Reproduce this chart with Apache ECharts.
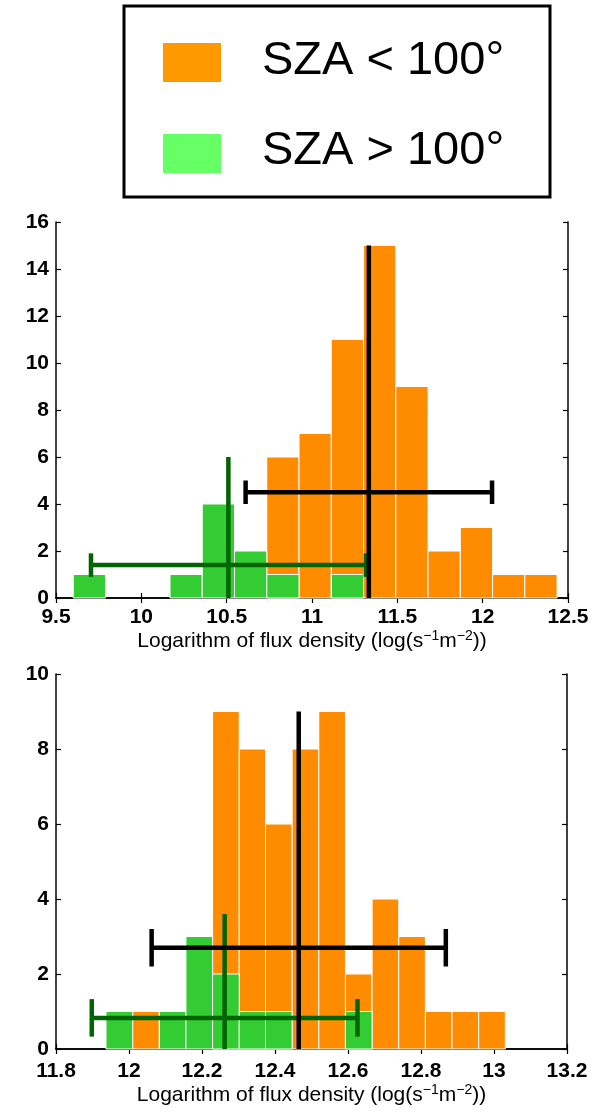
<!DOCTYPE html>
<html>
<head>
<meta charset="utf-8">
<script src="https://cdn.jsdelivr.net/npm/echarts@6/dist/echarts.min.js"></script>
<style>
  html, body { margin: 0; padding: 0; background: #fff; }
  #chart { width: 611px; height: 1117px; }
</style>
</head>
<body>
<div id="chart"></div>
<script>
// bin edges (15 bins per panel)
var topEdges = [9.601, 9.790, 9.979, 10.168, 10.357, 10.546, 10.735, 10.924, 11.113, 11.302, 11.491, 11.680, 11.869, 12.058, 12.247, 12.436];
var topOrange = [0, 0, 0, 0, 0, 0, 6, 7, 11, 15, 9, 2, 3, 1, 1];
var topGreen = [1, 0, 0, 1, 4, 2, 1, 0, 1, 0, 0, 0, 0, 0, 0];

var botEdges = [11.937, 12.010, 12.083, 12.156, 12.229, 12.302, 12.374, 12.447, 12.520, 12.593, 12.666, 12.739, 12.812, 12.885, 12.958, 13.031];
var botOrange = [0, 1, 0, 0, 9, 8, 6, 8, 9, 2, 4, 3, 1, 1, 1];
var botGreen = [1, 0, 1, 3, 2, 1, 1, 0, 0, 1, 0, 0, 0, 0, 0];

// mean, half spread, height of spread bar, top of mean line
var topOrangeStat = [11.333, 0.722, 4.5, 15];
var topGreenStat = [10.51, 0.805, 1.4, 6];
var botOrangeStat = [12.465, 0.403, 2.7, 9];
var botGreenStat = [12.262, 0.364, 0.83, 3.6];

var legendNames = ['SZA < 100°', 'SZA > 100°'];

var xTickTop = [9.5, 12.5, 0.5];
var xTickBot = [11.8, 13.2, 0.2];
var yTickTop = [0, 16, 2];
var yTickBot = [0, 10, 2];

var ORANGE = '#ff8c00', GREEN = '#33cc33', DKGREEN = '#006400';
var FONT = 'Liberation Sans';

var chart = echarts.init(document.getElementById('chart'));

function binData(edges, counts) {
    var out = [];
    counts.forEach(function (c, i) {
        out.push([edges[i], edges[i + 1], c]);
    });
    return out;
}

function renderBar(params, api) {
    var c = api.value(2);
    if (!c) return;
    var p0 = api.coord([api.value(0), 0]);
    var p1 = api.coord([api.value(1), c]);
    return {
        type: 'rect',
        shape: { x: p0[0], y: p1[1], width: p1[0] - p0[0], height: p0[1] - p1[1] },
        style: { fill: api.visual('color'), stroke: '#fff', lineWidth: 1 }
    };
}

function crossRenderer(color) {
    return function (params, api) {
        var m = api.value(0), h = api.value(1), lv = api.value(2), top = api.value(3);
        var segs = [
            [[m, 0], [m, top]],
            [[m - h, lv], [m + h, lv]],
            [[m - h, lv - 0.5], [m - h, lv + 0.5]],
            [[m + h, lv - 0.5], [m + h, lv + 0.5]]
        ];
        return {
            type: 'group',
            children: segs.map(function (s) {
                var a = api.coord(s[0]), b = api.coord(s[1]);
                return {
                    type: 'line',
                    shape: { x1: a[0], y1: a[1], x2: b[0], y2: b[1] },
                    style: { stroke: color, lineWidth: 4.5 }
                };
            })
        };
    };
}

var tickLabel = { color: '#000', fontFamily: FONT, fontWeight: 'bold', fontSize: 21 };
var axisLine = { show: true, lineStyle: { color: '#000', width: 1.5 } };
var axisTick = { show: true, inside: true, length: 5, lineStyle: { color: '#000', width: 1.2 } };
var xName = 'Logarithm of flux density (log(s{sup|\u22121}m{sup|\u22122}))';
var nameStyle = {
    color: '#000', fontFamily: FONT, fontSize: 21, lineHeight: 24,
    rich: { sup: { fontFamily: FONT, fontSize: 14, lineHeight: 14, verticalAlign: 'top', color: '#000' } }
};

function xAxes(grid, t, margin) {
    return [{
        type: 'value', gridIndex: grid, min: t[0], max: t[1], interval: t[2],
        axisLine: axisLine, axisTick: axisTick, splitLine: { show: false },
        axisLabel: Object.assign({ margin: margin }, tickLabel),
        name: xName, nameLocation: 'middle', nameGap: 31, nameTextStyle: nameStyle
    }, {
        type: 'value', gridIndex: grid, position: 'top', min: t[0], max: t[1], interval: t[2],
        axisLine: axisLine, axisTick: axisTick, splitLine: { show: false }, axisLabel: { show: false }
    }];
}

function yAxes(grid, t) {
    return [{
        type: 'value', gridIndex: grid, min: t[0], max: t[1], interval: t[2],
        axisLine: axisLine, axisTick: axisTick, splitLine: { show: false },
        axisLabel: Object.assign({ margin: 7 }, tickLabel)
    }, {
        type: 'value', gridIndex: grid, position: 'right', min: t[0], max: t[1], interval: t[2],
        axisLine: axisLine, axisTick: axisTick, splitLine: { show: false }, axisLabel: { show: false }
    }];
}

function barSeries(grid, edges, counts, color) {
    return {
        type: 'custom', xAxisIndex: grid * 2, yAxisIndex: grid * 2,
        renderItem: renderBar, itemStyle: { color: color },
        encode: { x: [0, 1], y: 2 }, data: binData(edges, counts), silent: true
    };
}

function crossSeries(grid, stat, color) {
    return {
        type: 'custom', xAxisIndex: grid * 2, yAxisIndex: grid * 2,
        renderItem: crossRenderer(color), encode: { x: 0, y: 3 },
        data: [stat], silent: true, z: 5
    };
}

var option = {
    animation: false,
    backgroundColor: '#fff',
    grid: [
        { left: 56, top: 222, width: 512, height: 376 },
        { left: 56, top: 674, width: 511, height: 375 }
    ],
    xAxis: xAxes(0, xTickTop, 9).concat(xAxes(1, xTickBot, 12)),
    yAxis: yAxes(0, yTickTop).concat(yAxes(1, yTickBot)),
    graphic: [
        { type: 'rect', shape: { x: 124, y: 6, width: 426, height: 191 }, style: { fill: '#fff', stroke: '#000', lineWidth: 3 } },
        { type: 'rect', shape: { x: 163, y: 43, width: 58, height: 39 }, style: { fill: '#ff9900' } },
        { type: 'rect', shape: { x: 163, y: 134, width: 58, height: 39 }, style: { fill: '#66ff66' } },
        { type: 'text', style: { x: 262, y: 61, text: legendNames[0], fontFamily: FONT, fontSize: 47, fill: '#000', verticalAlign: 'middle' } },
        { type: 'text', style: { x: 262, y: 151, text: legendNames[1], fontFamily: FONT, fontSize: 47, fill: '#000', verticalAlign: 'middle' } }
    ],
    series: [
        barSeries(0, topEdges, topOrange, ORANGE),
        barSeries(0, topEdges, topGreen, GREEN),
        crossSeries(0, topGreenStat, DKGREEN),
        crossSeries(0, topOrangeStat, '#000'),
        barSeries(1, botEdges, botOrange, ORANGE),
        barSeries(1, botEdges, botGreen, GREEN),
        crossSeries(1, botGreenStat, DKGREEN),
        crossSeries(1, botOrangeStat, '#000')
    ]
};

chart.setOption(option);
</script>
</body>
</html>
